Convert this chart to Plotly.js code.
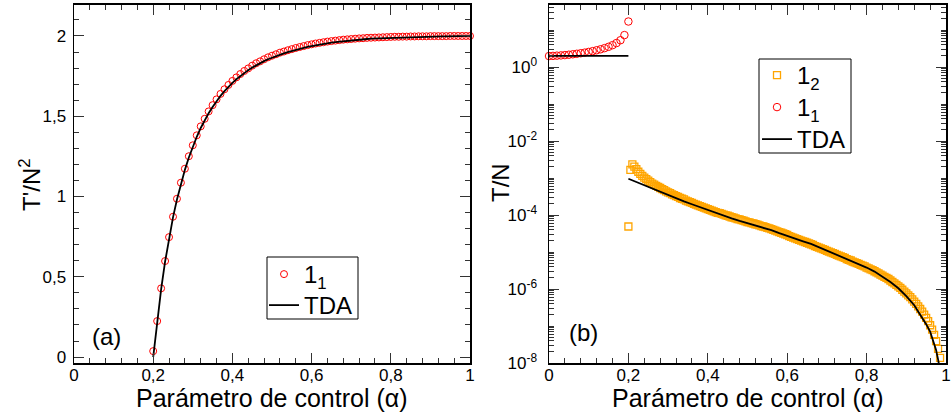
<!DOCTYPE html>
<html>
<head>
<meta charset="utf-8">
<script src="https://cdn.plot.ly/plotly-3.0.1.min.js"></script>
<style>
  html, body { margin: 0; padding: 0; background: #fff; }
  #chart { width: 952px; height: 418px; }
</style>
</head>
<body>
<div id="chart"></div>
<script>
// ---- panel (a): T'/N^2 against the control parameter ----
const alphaA = [0.20,0.21,0.22,0.23,0.24,0.25,0.26,0.27,0.28,0.29,0.30,0.31,0.32,0.33,0.34,0.35,0.36,0.37,0.38,0.39,
                0.40,0.41,0.42,0.43,0.44,0.45,0.46,0.47,0.48,0.49,0.50,0.51,0.52,0.53,0.54,0.55,0.56,0.57,0.58,0.59,
                0.60,0.61,0.62,0.63,0.64,0.65,0.66,0.67,0.68,0.69,0.70,0.71,0.72,0.73,0.74,0.75,0.76,0.77,0.78,0.79,
                0.80,0.81,0.82,0.83,0.84,0.85,0.86,0.87,0.88,0.89,0.90,0.91,0.92,0.93,0.94,0.95,0.96,0.97,0.98,0.99,1.00];
const state11A = [0.037,0.224,0.428,0.598,0.747,0.874,0.986,1.086,1.173,1.251,1.319,1.381,1.437,1.484,1.530,1.569,1.605,1.639,1.668,1.695,
                  1.720,1.742,1.763,1.782,1.798,1.815,1.830,1.842,1.855,1.867,1.877,1.886,1.896,1.903,1.911,1.918,1.925,1.931,1.937,1.943,
                  1.948,1.953,1.957,1.961,1.965,1.968,1.971,1.974,1.977,1.979,1.981,1.983,1.985,1.986,1.988,1.989,1.990,1.991,1.992,1.993,
                  1.994,1.995,1.995,1.996,1.996,1.997,1.997,1.998,1.998,1.998,1.999,1.999,1.999,1.999,1.999,2.000,2.000,2.000,2.000,2.000,2.000];
const tdaA = [0.000,0.215,0.422,0.594,0.743,0.870,0.981,1.080,1.166,1.243,1.311,1.372,1.427,1.474,1.519,1.558,1.594,1.627,1.656,1.683,
              1.708,1.730,1.751,1.770,1.787,1.803,1.818,1.831,1.843,1.855,1.865,1.875,1.884,1.892,1.900,1.907,1.914,1.920,1.926,1.932,
              1.937,1.942,1.946,1.950,1.954,1.958,1.961,1.964,1.967,1.970,1.972,1.975,1.977,1.979,1.981,1.983,1.984,1.986,1.987,1.988,
              1.989,1.990,1.991,1.992,1.993,1.994,1.995,1.995,1.996,1.996,1.997,1.997,1.998,1.998,1.998,1.999,1.999,1.999,1.999,2.000,2.000];

// ---- panel (b): T/N on a log scale ----
const alphaB11 = [0.00,0.01,0.02,0.03,0.04,0.05,0.06,0.07,0.08,0.09,0.10,0.11,0.12,0.13,0.14,0.15,0.16,0.17,0.18,0.19,0.20];
const state11B = [1.98,2.00,2.03,2.06,2.10,2.15,2.21,2.28,2.36,2.45,2.56,2.69,2.84,3.02,3.24,3.52,3.90,4.45,5.30,7.30,17.0];

// state 1_2 sampled every 0.005 from 0.200 to 0.985; values stored as decimal exponents of T/N
const alphaB12Start = 0.200, alphaB12Step = 0.005;
const state12Exp = [
  -4.31,-2.78,-2.63,-2.69,-2.76,-2.83,-2.89,-2.94,-2.99,-3.03,
  -3.07,-3.11,-3.15,-3.18,-3.21,-3.24,-3.27,-3.30,-3.33,-3.36,
  -3.39,-3.41,-3.44,-3.46,-3.49,-3.51,-3.54,-3.56,-3.58,-3.61,
  -3.63,-3.65,-3.67,-3.70,-3.72,-3.74,-3.76,-3.78,-3.80,-3.82,
  -3.84,-3.86,-3.88,-3.90,-3.92,-3.94,-3.95,-3.97,-3.99,-4.01,
  -4.02,-4.04,-4.06,-4.07,-4.09,-4.11,-4.12,-4.14,-4.15,-4.17,
  -4.19,-4.20,-4.22,-4.23,-4.25,-4.26,-4.28,-4.30,-4.31,-4.33,
  -4.35,-4.36,-4.38,-4.40,-4.42,-4.44,-4.46,-4.48,-4.50,-4.52,
  -4.54,-4.57,-4.59,-4.61,-4.63,-4.65,-4.67,-4.69,-4.71,-4.73,
  -4.75,-4.77,-4.79,-4.81,-4.84,-4.86,-4.88,-4.90,-4.92,-4.94,
  -4.97,-4.99,-5.01,-5.03,-5.05,-5.08,-5.10,-5.12,-5.14,-5.16,
  -5.19,-5.21,-5.23,-5.26,-5.28,-5.30,-5.32,-5.35,-5.37,-5.39,
  -5.42,-5.44,-5.47,-5.49,-5.52,-5.55,-5.58,-5.61,-5.64,-5.67,
  -5.70,-5.73,-5.77,-5.81,-5.85,-5.89,-5.93,-5.97,-6.02,-6.07,
  -6.12,-6.17,-6.22,-6.28,-6.34,-6.40,-6.47,-6.54,-6.61,-6.69,
  -6.78,-6.87,-6.98,-7.10,-7.24,-7.41,-7.62,-7.86
];

// TDA: constant branch below the transition, decaying branch above it
const tdaLowX = [0.00, 0.20];
const tdaLowY = [2.0, 2.0];
const tdaHighX = [0.20,0.22,0.24,0.26,0.28,0.30,0.32,0.34,0.36,0.38,0.40,0.42,0.44,0.46,0.48,0.50,0.52,0.54,0.56,0.58,
                  0.60,0.62,0.64,0.66,0.68,0.70,0.72,0.74,0.76,0.78,0.80,0.82,0.84,0.86,0.88,0.90,0.92,0.93,0.94,0.95,
                  0.96,0.97,0.975,0.98,0.985];
const tdaHighExp = [-3.02,-3.11,-3.20,-3.29,-3.38,-3.47,-3.55,-3.63,-3.71,-3.79,-3.87,-3.95,-4.03,-4.09,-4.16,-4.22,-4.29,-4.35,-4.41,-4.49,
                    -4.57,-4.64,-4.71,-4.78,-4.87,-4.96,-5.04,-5.13,-5.24,-5.33,-5.42,-5.53,-5.66,-5.81,-5.98,-6.19,-6.44,-6.60,-6.76,-6.95,
                    -7.15,-7.45,-7.65,-7.90,-8.20];

const logTickVals = [1e-8, 1e-6, 1e-4, 1e-2, 1];
const logTickText = ['10<sup>-8</sup>', '10<sup>-6</sup>', '10<sup>-4</sup>', '10<sup>-2</sup>', '10<sup>0</sup>'];

const xTitle = 'Parámetro de control (α)';
const yTitleA = "T'/N<sup>2</sup>";
const yTitleB = 'T/N';

// ---- helpers ----
const pow10 = e => Math.pow(10, e);
const alphaB12 = state12Exp.map((_, i) => +(alphaB12Start + i * alphaB12Step).toFixed(3));
const state12B = state12Exp.map(pow10);

// minor ticks on the log axis: every 1..9 x 10^n that is not a labelled decade
const logMinor = [];
for (let n = -8; n <= 1; n++) {
  for (let m = 1; m <= 9; m++) {
    if (m === 1 && n % 2 === 0) continue;
    logMinor.push(m * Math.pow(10, n));
  }
}

const FONT = 'Liberation Sans, Arial, sans-serif';
const RED = '#ff0000';
const ORANGE = '#ffa500';
const W = 952, H = 418;
const px = v => v / W;          // horizontal pixel -> paper fraction
const py = v => 1 - v / H;      // vertical pixel (from top) -> paper fraction

const traces = [
  {
    x: alphaA, y: state11A, xaxis: 'x', yaxis: 'y', legend: 'legend',
    type: 'scatter', mode: 'markers', name: '1<sub>1</sub>', cliponaxis: false,
    marker: { symbol: 'circle-open', size: 7, color: RED, line: { width: 1, color: RED } }
  },
  {
    x: alphaA, y: tdaA, xaxis: 'x', yaxis: 'y', legend: 'legend2',
    type: 'scatter', mode: 'lines', name: 'TDA',
    line: { color: '#000', width: 1.8 }
  },
  {
    x: alphaB12, y: state12B, xaxis: 'x2', yaxis: 'y2', legend: 'legend3',
    type: 'scatter', mode: 'markers', name: '1<sub>2</sub>', cliponaxis: false,
    marker: { symbol: 'square-open', size: 7, color: ORANGE, line: { width: 1.3, color: ORANGE } }
  },
  {
    x: alphaB11, y: state11B, xaxis: 'x2', yaxis: 'y2', legend: 'legend4',
    type: 'scatter', mode: 'markers', name: '1<sub>1</sub>', cliponaxis: false,
    marker: { symbol: 'circle-open', size: 7.5, color: RED, line: { width: 1, color: RED } }
  },
  {
    x: tdaLowX.concat([null], tdaHighX),
    y: tdaLowY.concat([null], tdaHighExp.map(pow10)),
    xaxis: 'x2', yaxis: 'y2', legend: 'legend5',
    type: 'scatter', mode: 'lines', name: 'TDA', connectgaps: false,
    line: { color: '#000', width: 1.8 }
  }
];

const frame = {
  showline: true, linecolor: '#000', linewidth: 1.5, mirror: 'allticks',
  ticks: 'inside', ticklen: 10, tickwidth: 1, tickcolor: '#333',
  showgrid: false, zeroline: false, automargin: false,
  tickfont: { family: FONT, size: 17, color: '#000' }
};
const minorLinear = d => ({ dtick: d, ticks: 'inside', ticklen: 5, tickcolor: '#333', showgrid: false });
const titleFont = { family: FONT, size: 24, color: '#000' };
const legendFont = { family: FONT, size: 24, color: '#000' };
const yDomain = [55 / H, 1 - 4.5 / H];

// one legend per row so each entry sits on its own line inside a framed box
const legendRow = (left, top) => ({
  x: px(left), y: py(top), xanchor: 'left', yanchor: 'top',
  bgcolor: 'rgba(0,0,0,0)', borderwidth: 0, font: legendFont
});

const label = (x, y, text, extra) => Object.assign({
  xref: 'paper', yref: 'paper', x: px(x), y: py(y), text: text,
  xanchor: 'center', yanchor: 'middle', showarrow: false, font: titleFont
}, extra || {});

const layout = {
  width: W, height: H,
  margin: { l: 0, r: 0, t: 0, b: 0 },
  paper_bgcolor: '#fff', plot_bgcolor: '#fff',
  separators: ',.',
  font: { family: FONT, color: '#000' },
  xaxis: Object.assign({}, frame, {
    domain: [74 / W, 470 / W], anchor: 'y', range: [0, 1],
    tick0: 0, dtick: 0.2, ticklabelstandoff: -4, minor: minorLinear(0.04)
  }),
  yaxis: Object.assign({}, frame, {
    domain: yDomain, anchor: 'x', range: [-0.037, 2.196],
    tick0: 0, dtick: 0.5, ticklabelstandoff: 3, minor: minorLinear(0.1)
  }),
  xaxis2: Object.assign({}, frame, {
    domain: [549 / W, 946 / W], anchor: 'y2', range: [0, 1],
    tick0: 0, dtick: 0.2, ticklabelstandoff: -4, minor: minorLinear(0.04)
  }),
  yaxis2: Object.assign({}, frame, {
    domain: yDomain, anchor: 'x2', type: 'log', range: [-8, 1.69],
    tickmode: 'array', tickvals: logTickVals, ticktext: logTickText, ticklabelstandoff: 7,
    minor: { tickmode: 'array', tickvals: logMinor, ticks: 'inside', ticklen: 5, tickcolor: '#333', showgrid: false }
  }),
  showlegend: true,
  legend: legendRow(264, 252),
  legend2: legendRow(264, 283),
  legend3: legendRow(757, 53),
  legend4: legendRow(757, 85),
  legend5: legendRow(757, 117),
  shapes: [
    { type: 'rect', xref: 'paper', yref: 'paper', layer: 'above',
      x0: px(267), x1: px(358), y0: py(319), y1: py(257),
      line: { color: '#000', width: 1 }, fillcolor: '#fff' },
    { type: 'rect', xref: 'paper', yref: 'paper', layer: 'above',
      x0: px(759), x1: px(851), y0: py(153), y1: py(59),
      line: { color: '#000', width: 1 }, fillcolor: '#fff' }
  ],
  annotations: [
    label(272, 398, xTitle, { font: { family: FONT, size: 25, color: '#000' } }),
    label(748, 398, xTitle, { font: { family: FONT, size: 25, color: '#000' } }),
    label(30, 185, yTitleA, { textangle: -90 }),
    label(500, 183, yTitleB, { textangle: -90 }),
    { xref: 'x', yref: 'y', x: 0.081, y: 0.125, text: '(a)', showarrow: false, font: titleFont },
    { xref: 'x2', yref: 'y2', x: 0.086, y: -7.18, text: '(b)', showarrow: false, font: titleFont }
  ]
};

Plotly.newPlot('chart', traces, layout, { displayModeBar: false, staticPlot: true });
</script>
</body>
</html>
